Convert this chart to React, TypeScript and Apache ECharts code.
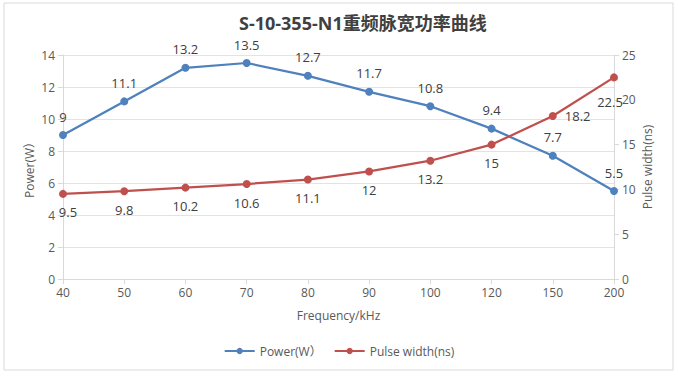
import React, { useEffect, useRef } from "react";
import * as echarts from "echarts";

const frequencies = ["40", "50", "60", "70", "80", "90", "100", "120", "150", "200"];
const powerW = [9, 11.1, 13.2, 13.5, 12.7, 11.7, 10.8, 9.4, 7.7, 5.5];
const pulseNs = [9.5, 9.8, 10.2, 10.6, 11.1, 12, 13.2, 15, 18.2, 22.5];
const pulseLabelPos = ["bottom", "bottom", "bottom", "bottom", "bottom", "bottom", "bottom", "bottom", "right", "bottom"];

const FONT = "'Open Sans', 'Noto Sans', 'Noto Sans CJK SC', sans-serif";
const TEXT = "#595959";
const BLUE = "#4F81BD";
const RED = "#C0504D";

export default function App() {
  const ref = useRef<HTMLDivElement>(null);

  useEffect(() => {
    if (!ref.current) return;
    const chart = echarts.init(ref.current, undefined, { renderer: "svg" });
    chart.setOption({
      animation: false,
      backgroundColor: "#ffffff",
      textStyle: { fontFamily: FONT, color: TEXT },
      title: {
        text: "S-10-355-N1重频脉宽功率曲线",
        left: 234,
        top: 9,
        textStyle: { fontFamily: FONT, fontSize: 18, fontWeight: "bold", color: "#404040" },
      },
      graphic: [
        {
          type: "rect",
          shape: { x: 4, y: 3, width: 669, height: 367 },
          style: { fill: "none", stroke: "#d9d9d9", lineWidth: 1 },
          silent: true,
        },
      ],
      legend: {
        bottom: 14,
        left: "center",
        itemWidth: 30,
        itemHeight: 8,
        itemGap: 12,
        textStyle: { fontFamily: FONT, fontSize: 12, color: TEXT },
        data: ["Power(W）", "Pulse width(ns)"],
      },
      grid: { left: 63, right: 64, top: 55, bottom: 97 },
      xAxis: {
        type: "category",
        data: frequencies,
        boundaryGap: false,
        name: "Frequency/kHz",
        nameLocation: "middle",
        nameGap: 30,
        nameTextStyle: { fontFamily: FONT, fontSize: 12, color: TEXT },
        axisLine: { lineStyle: { color: "#d9d9d9" } },
        axisTick: { show: true, length: 5, alignWithLabel: true, lineStyle: { color: "#d9d9d9" } },
        axisLabel: { fontFamily: FONT, fontSize: 12, color: TEXT, margin: 7 },
        splitLine: { show: false },
      },
      yAxis: [
        {
          type: "value",
          min: 0,
          max: 14,
          interval: 2,
          name: "Power(W）",
          nameLocation: "middle",
          nameRotate: 90,
          nameGap: 28,
          nameMoveOverlap: false,
          nameTextStyle: { fontFamily: FONT, fontSize: 12, color: TEXT },
          axisLine: { show: true, lineStyle: { color: "#d9d9d9" } },
          axisTick: { show: true, length: 5, lineStyle: { color: "#d9d9d9" } },
          axisLabel: { fontFamily: FONT, fontSize: 12, color: TEXT, margin: 8 },
          splitLine: { show: true, lineStyle: { color: "#e3e3e3" } },
        },
        {
          type: "value",
          min: 0,
          max: 25,
          interval: 5,
          name: "Pulse width(ns)",
          nameLocation: "middle",
          nameRotate: 90,
          nameGap: 27,
          nameMoveOverlap: false,
          nameTextStyle: { fontFamily: FONT, fontSize: 12, color: TEXT },
          axisLine: { show: true, lineStyle: { color: "#d9d9d9" } },
          axisTick: { show: true, length: 5, lineStyle: { color: "#d9d9d9" } },
          axisLabel: { fontFamily: FONT, fontSize: 12, color: TEXT, margin: 8 },
          splitLine: { show: false },
        },
      ],
      series: [
        {
          name: "Power(W）",
          type: "line",
          yAxisIndex: 0,
          data: powerW,
          color: BLUE,
          symbol: "circle",
          symbolSize: 8,
          lineStyle: { width: 2.25, color: BLUE },
          itemStyle: { color: BLUE },
          label: {
            show: true,
            position: "top",
            distance: 8,
            fontFamily: FONT,
            fontSize: 13,
            color: "#404040",
          },
        },
        {
          name: "Pulse width(ns)",
          type: "line",
          yAxisIndex: 1,
          color: RED,
          data: pulseNs.map((v, i) => ({
            value: v,
            label: {
              position: pulseLabelPos[i],
              offset: i === 9 ? [-4, 6] : i === 0 ? [5, 0] : [0, 0],
            },
          })),
          symbol: "circle",
          symbolSize: 8,
          lineStyle: { width: 2.25, color: RED },
          itemStyle: { color: RED },
          label: {
            show: true,
            distance: 8,
            fontFamily: FONT,
            fontSize: 13,
            color: "#404040",
          },
        },
      ],
    });
    return () => chart.dispose();
  }, []);

  return (
    <div
      ref={ref}
      style={{ position: "fixed", left: 0, top: 0, width: 678, height: 376 }}
    />
  );
}
